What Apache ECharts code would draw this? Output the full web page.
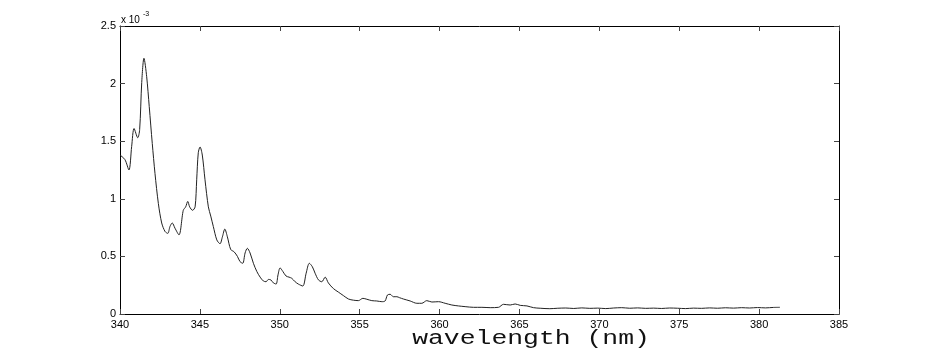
<!DOCTYPE html>
<html>
<head>
<meta charset="utf-8">
<script src="https://cdn.jsdelivr.net/npm/echarts@6/dist/echarts.min.js"></script>
<style>
html,body{margin:0;padding:0;background:#fff;}
#chart{width:926px;height:354px;}
</style>
</head>
<body>
<div id="chart"></div>
<script>
// wavelength (nm)
const wavelength = [
  340.0, 340.31, 340.56, 340.73, 340.88, 341.11, 341.23, 341.36, 341.50, 341.67,
  341.83, 342.02, 342.19, 342.40, 342.61, 342.82, 342.99, 343.13, 343.27, 343.44,
  343.69, 343.96, 344.11, 344.24, 344.36, 344.54, 344.70, 344.80, 344.90, 345.01,
  345.15, 345.32, 345.53, 345.68, 345.84, 346.06, 346.26, 346.41, 346.56, 346.72,
  346.93, 347.14, 347.35, 347.51, 347.68, 347.83, 347.97, 348.14, 348.35, 348.56,
  348.77, 348.97, 349.14, 349.29, 349.44, 349.60, 349.77, 349.89, 350.02, 350.19,
  350.39, 350.58, 350.75, 350.96, 351.16, 351.44, 351.65, 351.85, 352.04, 352.21,
  352.42, 352.63, 352.84, 353.04, 353.36, 353.67, 353.98, 354.30, 354.61, 354.92,
  355.20, 355.45, 355.76, 356.07, 356.39, 356.59, 356.74, 356.91, 357.11, 357.33,
  357.49, 357.74, 358.16, 358.58, 358.89, 359.20, 359.52, 359.93, 360.35, 360.77,
  361.18, 361.60, 362.12, 362.65, 363.17, 363.69, 364.00, 364.42, 364.73, 365.05,
  365.47, 365.88, 366.30, 366.90, 367.40, 367.90, 368.40, 368.90, 369.40, 369.90,
  370.40, 370.90, 371.40, 371.90, 372.40, 372.90, 373.40, 373.90, 374.40, 374.90,
  375.40, 375.90, 376.40, 376.90, 377.40, 377.90, 378.40, 378.90, 379.40, 379.90,
  380.40, 380.90, 381.30
];
// absorbance (x 10^-3)
const absorbance = [
  1.38, 1.34, 1.25, 1.455, 1.61, 1.53, 1.60, 2.01, 2.22, 2.06,
  1.80, 1.48, 1.22, 0.96, 0.79, 0.716, 0.70, 0.76, 0.79, 0.745,
  0.687, 0.90, 0.93, 0.977, 0.93, 0.90, 0.93, 1.165, 1.40, 1.45,
  1.38, 1.165, 0.93, 0.85, 0.76, 0.643, 0.61, 0.67, 0.737, 0.67,
  0.56, 0.54, 0.50, 0.455, 0.44, 0.53, 0.57, 0.53, 0.44, 0.37,
  0.32, 0.287, 0.28, 0.30, 0.296, 0.27, 0.26, 0.34, 0.40, 0.37,
  0.33, 0.32, 0.31, 0.28, 0.26, 0.243, 0.354, 0.44, 0.41, 0.354,
  0.296, 0.28, 0.32, 0.27, 0.22, 0.19, 0.16, 0.13, 0.12, 0.116,
  0.136, 0.128, 0.116, 0.113, 0.107, 0.113, 0.165, 0.171, 0.15, 0.15,
  0.142, 0.13, 0.113, 0.093, 0.093, 0.116, 0.104, 0.107, 0.093, 0.078,
  0.07, 0.064, 0.058, 0.058, 0.055, 0.058, 0.084, 0.078, 0.087, 0.075,
  0.07, 0.055, 0.05, 0.046, 0.05, 0.052, 0.048, 0.053, 0.049, 0.051,
  0.047, 0.052, 0.055, 0.05, 0.053, 0.049, 0.051, 0.048, 0.052, 0.05,
  0.047, 0.051, 0.049, 0.053, 0.05, 0.054, 0.051, 0.055, 0.052, 0.056,
  0.053, 0.057, 0.058
];
const xTicks = [340, 345, 350, 355, 360, 365, 370, 375, 380, 385];
const yTicks = [0, 0.5, 1, 1.5, 2, 2.5];
const xTitle = 'wavelength (nm)';
const yExponent = ['x 10', '-3'];

const seriesData = wavelength.map((w, i) => [w, absorbance[i]]);

const chart = echarts.init(document.getElementById('chart'), null, {renderer: 'canvas'});
const tickFont = {fontFamily: 'Liberation Sans', fontSize: 11, color: '#000'};
const baseX = {
  type: 'value', min: xTicks[0], max: xTicks[xTicks.length - 1], interval: 5,
  splitLine: {show: false},
  axisLine: {show: true, onZero: false, lineStyle: {color: '#000', width: 1}},
  axisTick: {show: true, inside: true, length: 5, lineStyle: {color: '#444'}}
};
const baseY = {
  type: 'value', min: yTicks[0], max: yTicks[yTicks.length - 1], interval: 0.5,
  splitLine: {show: false},
  axisLine: {show: true, onZero: false, lineStyle: {color: '#000', width: 1}},
  axisTick: {show: true, inside: true, length: 5, lineStyle: {color: '#444'}}
};
chart.setOption({
  animation: false,
  backgroundColor: '#fff',
  grid: {left: 120, right: 87, top: 26, bottom: 40, containLabel: false},
  xAxis: [
    Object.assign({}, baseX, {position: 'bottom',
      axisLabel: Object.assign({margin: 5}, tickFont)}),
    Object.assign({}, baseX, {position: 'top', axisLabel: {show: false}})
  ],
  yAxis: [
    Object.assign({}, baseY, {position: 'left',
      axisLabel: Object.assign({margin: 4}, tickFont)}),
    Object.assign({}, baseY, {position: 'right', axisLabel: {show: false}})
  ],
  graphic: [
    {type: 'text', left: 121, top: 15,
      style: {text: yExponent[0], fontFamily: 'Liberation Sans', fontSize: 10, fill: '#000'}},
    {type: 'text', left: 143, top: 11,
      style: {text: yExponent[1], fontFamily: 'Liberation Sans', fontSize: 7, fill: '#000'}},
    {type: 'text', x: 531, y: 349, scaleX: 1.32, scaleY: 1,
      style: {text: xTitle, fontFamily: 'Liberation Mono', fontSize: 20, fill: '#111',
        textAlign: 'center', textVerticalAlign: 'bottom'}}
  ],
  series: [{
    type: 'line', xAxisIndex: 0, yAxisIndex: 0,
    data: seriesData, showSymbol: false, smooth: 0.3,
    lineStyle: {color: '#222', width: 1}
  }]
});
</script>
</body>
</html>
